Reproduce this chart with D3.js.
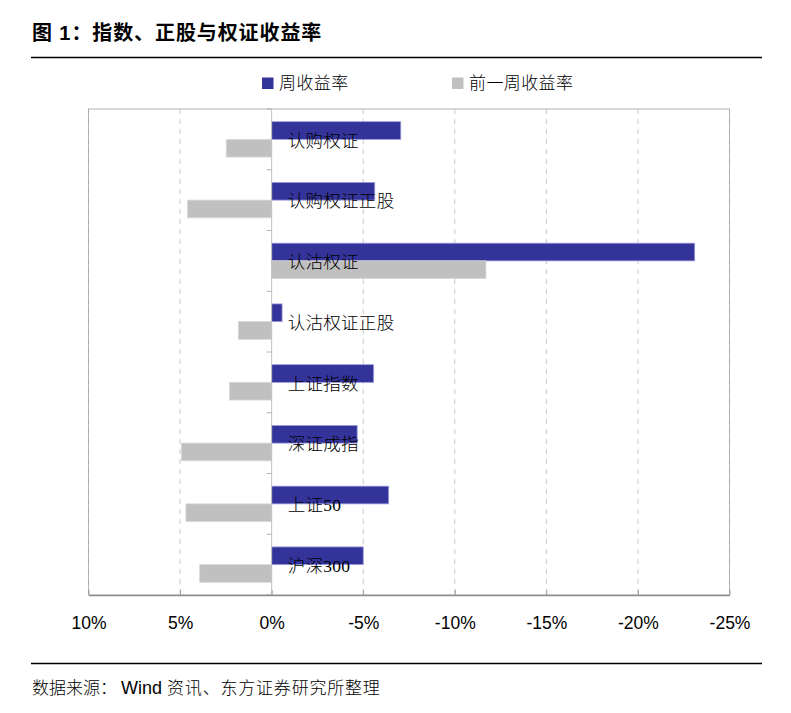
<!DOCTYPE html>
<html>
<head>
<meta charset="utf-8">
<script src="https://cdn.jsdelivr.net/npm/d3@7"></script>
<style>
  html, body { margin: 0; padding: 0; background: #fff; }
  svg { display: block; }
</style>
</head>
<body>
<svg id="chart" width="791" height="713"></svg>
<script>
// ---- data ----
const categories = ["认购权证", "认购权证正股", "认沽权证", "认沽权证正股", "上证指数", "深证成指", "上证50", "沪深300"];
const weekReturn = [-7.05, -5.63, -23.1, -0.57, -5.57, -4.67, -6.39, -5.0];
const prevWeekReturn = [2.48, 4.59, -11.7, 1.82, 2.3, 4.93, 4.68, 3.93];
const seriesNames = ["周收益率", "前一周收益率"];
const xTicks = [10, 5, 0, -5, -10, -15, -20, -25];

const titleText = "图 1：指数、正股与权证收益率";
const sourceParts = ["数据来源：", "Wind", " 资讯、东方证券研究所整理"];

// ---- layout ----
const svg = d3.select("#chart");
const pLeft = 88.5, pRight = 729.5, pTop = 109, pBottom = 595;
const colors = ["#333399", "#c0c0c0"];
const cjkSerif = "'Liberation Serif', 'Noto Sans CJK SC', serif";
const sans = "'Liberation Sans', Arial, 'Noto Sans CJK SC', sans-serif";

const x = d3.scaleLinear().domain([10, -25]).range([pLeft, pRight]);
const y = d3.scaleBand().domain(categories).range([pTop, pBottom]).paddingInner(0).paddingOuter(0);
const ySub = d3.scaleBand().domain(seriesNames).range([0, y.bandwidth()]).paddingInner(0).paddingOuter(0.716);

const rows = categories.map((c, i) => ({ cat: c, vals: [weekReturn[i], prevWeekReturn[i]] }));

// title
svg.append("text")
  .attr("x", 32).attr("y", 40)
  .attr("font-family", sans)
  .attr("font-weight", "bold")
  .attr("font-size", 20)
  .attr("letter-spacing", 0.9)
  .attr("fill", "#000")
  .text(titleText);

svg.append("line").attr("x1", 31).attr("x2", 762).attr("y1", 57.5).attr("y2", 57.5)
  .attr("stroke", "#000").attr("stroke-width", 1.3);

// legend
const legendX = [262, 452];
seriesNames.forEach((s, i) => {
  svg.append("rect").attr("x", legendX[i]).attr("y", 77.5).attr("width", 11.5).attr("height", 11.5)
    .attr("fill", colors[i]);
  svg.append("text").attr("x", legendX[i] + 17).attr("y", 89)
    .attr("font-family", cjkSerif).attr("font-weight", 300).attr("font-size", 17)
    .attr("letter-spacing", 0.4).attr("fill", "#000").text(s);
});

// frame
svg.append("rect").attr("x", pLeft).attr("y", pTop).attr("width", pRight - pLeft).attr("height", pBottom - pTop)
  .attr("fill", "none").attr("stroke", "#b4b4b4").attr("stroke-width", 1);

// dashed gridlines
svg.append("g").selectAll("line").data(xTicks.filter(t => t !== 0)).join("line")
  .attr("x1", d => x(d)).attr("x2", d => x(d))
  .attr("y1", pTop).attr("y2", pBottom)
  .attr("stroke", d => (d === 10 || d === -25) ? "#a8a8a8" : "#c8c8c8")
  .attr("stroke-width", 1)
  .attr("stroke-dasharray", "5,5");

// bars
const groups = svg.append("g").selectAll("g").data(rows).join("g")
  .attr("transform", d => `translate(0,${y(d.cat)})`);

groups.selectAll("rect").data(d => d.vals.map((v, i) => ({ v, s: seriesNames[i], i }))).join("rect")
  .attr("x", d => Math.min(x(d.v), x(0)))
  .attr("width", d => Math.abs(x(d.v) - x(0)))
  .attr("y", d => ySub(d.s))
  .attr("height", ySub.bandwidth())
  .attr("fill", d => colors[d.i])
  .attr("stroke", d => d.i === 0 ? "#9c9ce0" : "#d8d8d8")
  .attr("stroke-width", 0.8);

// zero axis with ticks at band boundaries
svg.append("line").attr("x1", x(0)).attr("x2", x(0)).attr("y1", pTop).attr("y2", pBottom)
  .attr("stroke", "#c0c0c0").attr("stroke-width", 1);
const boundaries = categories.map(c => y(c)).concat([pBottom]);
svg.append("g").selectAll("line").data(boundaries).join("line")
  .attr("x1", x(0) - 5).attr("x2", x(0))
  .attr("y1", d => d).attr("y2", d => d)
  .attr("stroke", "#b0b0b0").attr("stroke-width", 1);

// category labels
groups.append("text")
  .attr("x", x(0) + 16)
  .attr("y", 37.5)
  .attr("font-family", cjkSerif)
  .attr("font-weight", 300)
  .attr("font-size", 17.5)
  .attr("letter-spacing", 0.3)
  .attr("fill", "#000")
  .text(d => d.cat);

// bottom axis
const xAxis = d3.axisBottom(x).tickValues(xTicks).tickSize(0).tickPadding(0)
  .tickFormat(d => d + "%");
const ax = svg.append("g").attr("transform", `translate(0,${pBottom})`).call(xAxis);
ax.select(".domain").attr("stroke", "#8c8c8c").attr("stroke-width", 1.5);
ax.selectAll(".tick text")
  .attr("y", 33.5).attr("dy", null)
  .attr("font-family", sans).attr("font-size", 17.5).attr("fill", "#000");
ax.selectAll(".tick").append("line")
  .attr("y1", 0).attr("y2", -5).attr("stroke", "#a0a0a0");

// footer
svg.append("line").attr("x1", 31).attr("x2", 762).attr("y1", 663.5).attr("y2", 663.5)
  .attr("stroke", "#000").attr("stroke-width", 1.3);
const src = svg.append("text").attr("x", 32).attr("y", 694)
  .attr("font-size", 17).attr("fill", "#000");
src.append("tspan").attr("font-family", cjkSerif).attr("font-weight", 300).attr("letter-spacing", 0).text(sourceParts[0]);
src.append("tspan").attr("font-family", sans).attr("font-size", 18).attr("dx", 4).text(sourceParts[1]);
src.append("tspan").attr("font-family", cjkSerif).attr("font-weight", 300).attr("letter-spacing", 0.8).text(sourceParts[2]);
</script>
</body>
</html>
